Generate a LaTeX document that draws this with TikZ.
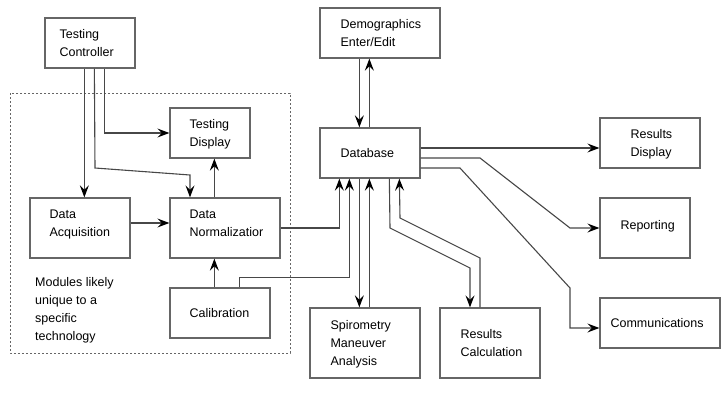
\documentclass[tikz,border=0pt]{standalone}
\usepackage{fontspec}
\setmainfont{Liberation Sans}
\usetikzlibrary{arrows.meta,calc}
\begin{document}
\begin{tikzpicture}[x=1pt,y=-1pt,
  box/.style={draw=black!60,line width=1.3pt,fill=white,inner sep=0pt,rectangle},
  txt/.style={anchor=west,align=left,inner sep=0pt,text depth=0pt,font=\fontsize{12.5}{18}\selectfont},
  conn/.style={draw=black!72,line width=1.1pt},
  arr/.style={conn,-{Stealth[length=12pt,width=9pt,inset=4.5pt,black]}},
  region/.style={draw=black!60,line width=1pt,dash pattern=on 2pt off 2pt}]
\useasboundingbox (0,0) rectangle (727,410);
% dashed region
\draw[region] (10,93) rectangle (290,353);
% boxes
\node[box,minimum width=90pt,minimum height=50pt] (tc) at (90,43) {};
\node[box,minimum width=80pt,minimum height=50pt] (td) at (210,133) {};
\node[box,minimum width=100pt,minimum height=60pt] (da) at (80,228) {};
\node[box,minimum width=110pt,minimum height=60pt] (dn) at (225,228) {};
\node[box,minimum width=100pt,minimum height=50pt] (cal) at (220,313) {};
\node[box,minimum width=120pt,minimum height=50pt] (demo) at (380,33) {};
\node[box,minimum width=100pt,minimum height=50pt] (db) at (370,153) {};
\node[box,minimum width=110pt,minimum height=70pt] (sp) at (365,343) {};
\node[box,minimum width=100pt,minimum height=70pt] (rc) at (490,343) {};
\node[box,minimum width=100pt,minimum height=50pt] (rd) at (650,143) {};
\node[box,minimum width=90pt,minimum height=60pt] (rep) at (645,228) {};
\node[box,minimum width=120pt,minimum height=50pt] (comm) at (660,323) {};
% texts
\node[txt] (tct) at ($(tc.west)+(15,0)$) {Testing\\Controller};
\node[txt] (tdt) at ($(td.west)+(20,0)$) {Testing\\Display};
\node[txt] (dat) at ($(da.west)+(20,-5)$) {Data\\Acquisition};
\node[txt] (dnt) at ($(dn.west)+(20,-5)$) {Data\\Normalizatior};
\node[txt] (calt) at ($(cal.west)+(20,0)$) {Calibration};
\node[txt] (demot) at ($(demo.west)+(21,0)$) {Demographics\\Enter/Edit};
\node[txt] (dbt) at ($(db.west)+(21,0)$) {Database};
\node[txt] (spt) at ($(sp.west)+(21,0)$) {Spirometry\\Maneuver\\Analysis};
\node[txt] (rct) at ($(rc.west)+(21,0)$) {Results\\Calculation};
\node[txt] (rdt) at ($(rd.west)+(31,0)$) {Results\\Display};
\node[txt] (rept) at ($(rep.west)+(21,-3)$) {Reporting};
\node[txt] (commt) at ($(comm.west)+(11,0)$) {Communications};
\node[txt,anchor=north west] (mod) at (35,277) {Modules likely\\unique to a\\specific\\technology};
% helper coordinates
\coordinate (k1) at (95,168);
\coordinate (k2) at (190,175);
\coordinate (k3) at (390,228);
\coordinate (k4) at (470,268);
\coordinate (k5) at (480,258);
\coordinate (k6) at (400,218);
\coordinate (k7) at (480,158);
\coordinate (k8) at (570,228);
\coordinate (k9) at (460,168);
\coordinate (k10) at (570,288);
% connectors
\draw[arr] ([xshift=40]tc.south west) -- ([xshift=40]tc.south west |- da.north);
\draw[arr] ([xshift=50]tc.south west) -- (k1) -- (k2) -- (k2 |- dn.north);
\draw[arr] ([xshift=60]tc.south west) |- (td.west);
\draw[arr] ([xshift=45]dn.north west) -- ([xshift=45]dn.north west |- td.south);
\draw[arr] ([yshift=5]da.east) -- ([yshift=5]da.east -| dn.west);
\draw[arr] ([xshift=45]cal.north west) -- ([xshift=45]cal.north west |- dn.south);
\draw[arr] (dn.east) -| ([xshift=20]db.south west);
\draw[arr] ([xshift=70]cal.north west) -- ([xshift=70,yshift=10]cal.north west) -| ([xshift=30]db.south west);
\draw[arr] ([xshift=40]db.south west) -- ([xshift=40]db.south west |- sp.north);
\draw[arr] ([xshift=50]db.south west |- sp.north) -- ([xshift=50]db.south west);
\draw[arr] ([xshift=70]db.south west) -- (k3) -- (k4) -- (k4 |- rc.north);
\draw[arr] (k5 |- rc.north) -- (k5) -- (k6) -- ([xshift=80]db.south west);
\draw[arr] ([xshift=40]demo.south west) -- ([xshift=40]demo.south west |- db.north);
\draw[arr] ([xshift=50]db.north west) -- ([xshift=50]db.north west |- demo.south);
\draw[arr] ([yshift=5]db.east) -- ([yshift=5]db.east -| rd.west);
\draw[arr] ([yshift=-5]db.east) -- (k7) -- (k8) -- (k8 -| rep.west);
\draw[arr] ([yshift=-15]db.east) -- (k9) -- (k10) |- ([yshift=-5]comm.west);
\end{tikzpicture}
\end{document}
